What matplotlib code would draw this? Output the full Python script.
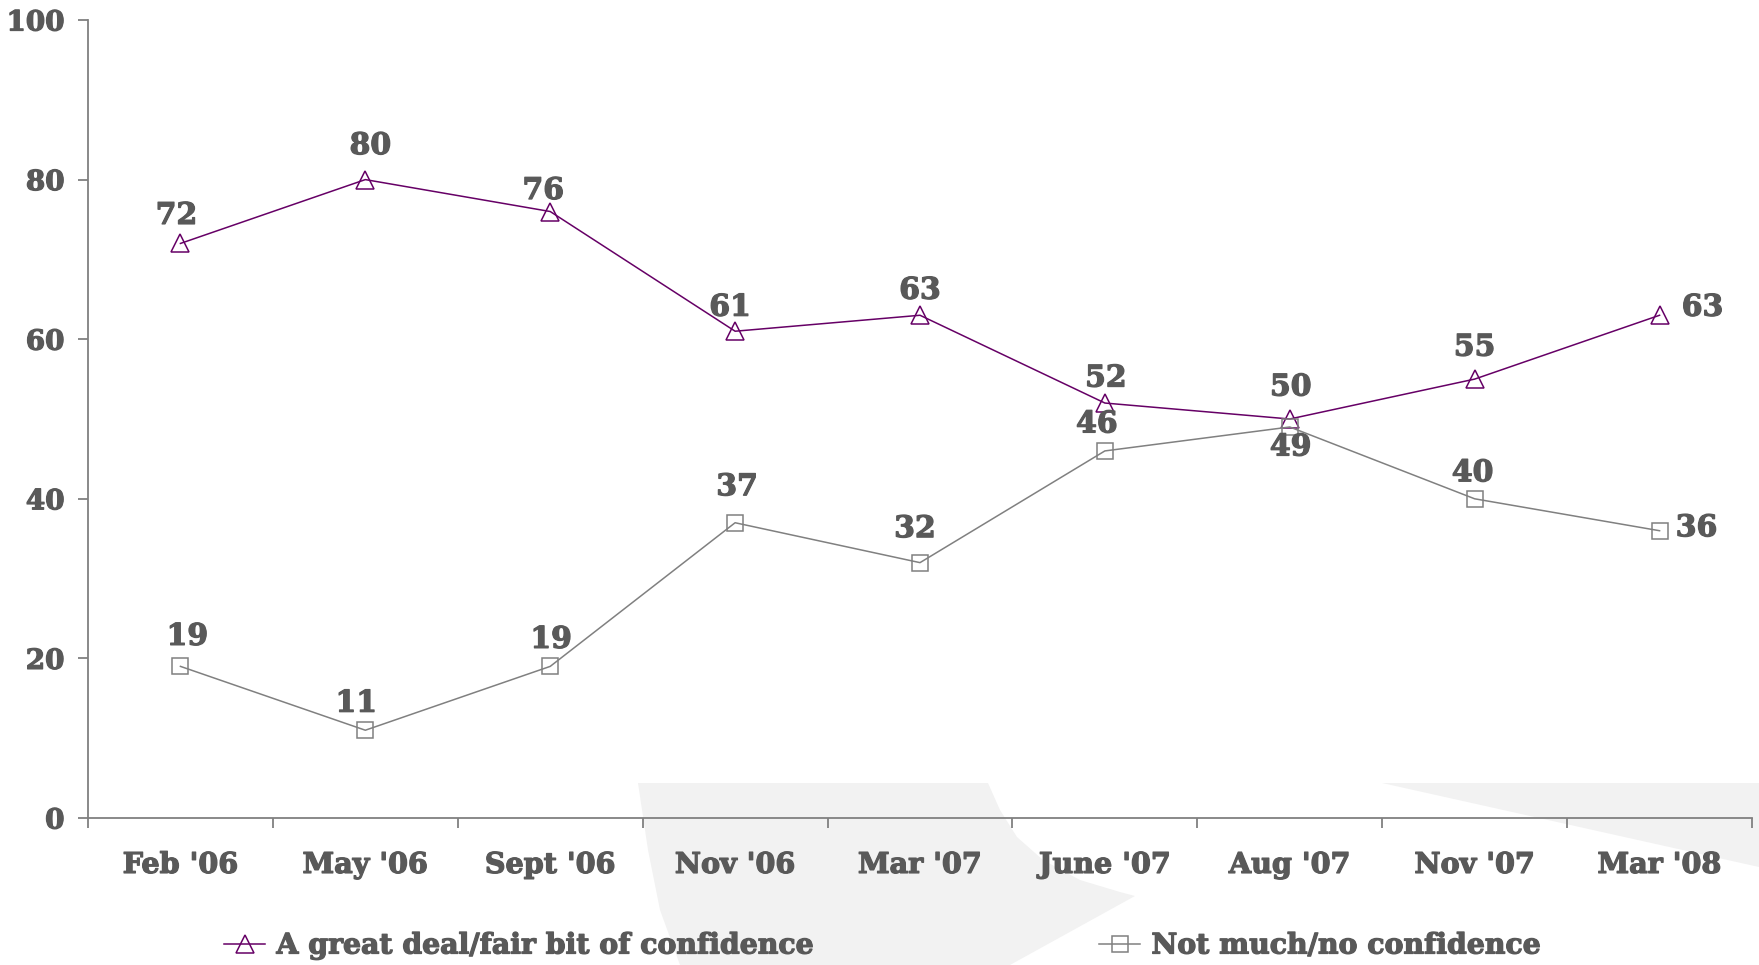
import matplotlib
matplotlib.use("Agg")
import matplotlib.pyplot as plt
import matplotlib.patheffects as pe
from matplotlib.patches import Polygon
from matplotlib.lines import Line2D

# data
waves = ["Feb '06", "May '06", "Sept '06", "Nov '06", "Mar '07",
         "June '07", "Aug '07", "Nov '07", "Mar '08"]
confident = [72, 80, 76, 61, 63, 52, 50, 55, 63]
not_confident = [19, 11, 19, 37, 32, 46, 49, 40, 36]
yticks = [0, 20, 40, 60, 80, 100]

# label offsets (pixels) - hand placed like the original
conf_off = [(-4, 28), (5, 34), (-7, 21), (-5, 24), (0, 25), (1, 25), (1, 32), (0, 32), (43, 8)]
notc_off = [(7, 30), (-9, 27), (1, 27), (2, 36), (-5, 34), (-8, 27), (1, -20), (-2, 26), (37, 3)]

PURPLE = "#660066"
GRAY = "#808080"
TXT = "#595959"
FONT = "DejaVu Serif"
# thicken the bold a bit, the original face is heavier
heavy = [pe.withStroke(linewidth=0.9, foreground=TXT)]

W, H = 1759, 965
fig = plt.figure(figsize=(W / 100, H / 100), dpi=100)
fig.patch.set_facecolor("white")


def px(pts):
    return [(x / W, 1 - y / H) for x, y in pts]


# faint watermark shapes in the background
shape1 = [(638, 783), (988, 783), (1000, 810), (1017, 837), (1043, 860), (1080, 880),
          (1120, 892), (1135, 896), (1010, 965), (680, 965), (660, 910), (648, 850)]
shape2 = [(1382, 783), (1759, 783), (1759, 867)]
for s in (shape1, shape2):
    fig.patches.append(Polygon(px(s), closed=True, transform=fig.transFigure,
                               facecolor="#f2f2f2", edgecolor="none", zorder=-10))

ax = fig.add_axes([88 / W, 1 - 818 / H, (1752 - 88) / W, (818 - 20) / H])
ax.set_zorder(1)
ax.patch.set_alpha(0)

x = list(range(len(waves)))
ax.plot(x, confident, color=PURPLE, lw=1.1, marker="^", ms=13,
        mfc="none", mec=PURPLE, mew=1.1, zorder=3)
ax.plot(x, not_confident, color=GRAY, lw=1.1, marker="s", ms=12,
        mfc="none", mec=GRAY, mew=1.1, zorder=3)

for i, v in enumerate(confident):
    ax.annotate(str(v), (i, v), xytext=conf_off[i], textcoords="offset pixels",
                ha="center", va="center", fontsize=21.5, fontweight="bold",
                family=FONT, color=TXT, path_effects=heavy)
for i, v in enumerate(not_confident):
    ax.annotate(str(v), (i, v), xytext=notc_off[i], textcoords="offset pixels",
                ha="center", va="center", fontsize=21.5, fontweight="bold",
                family=FONT, color=TXT, path_effects=heavy)

ax.set_xlim(-0.5, len(waves) - 0.5)
ax.set_ylim(0, 100)
ax.set_yticks(yticks)
ax.set_xticks(x)
ax.set_xticklabels(waves)
ax.set_xticks([i - 0.5 for i in range(len(waves) + 1)], minor=True)

for sp in ["top", "right"]:
    ax.spines[sp].set_visible(False)
for sp in ["left", "bottom"]:
    ax.spines[sp].set_color(GRAY)
    ax.spines[sp].set_linewidth(1.3)

ax.tick_params(axis="x", which="major", length=0, pad=23)
ax.tick_params(axis="x", which="minor", length=7, width=1.3, color=GRAY)
ax.tick_params(axis="y", length=7, width=1.3, color=GRAY, pad=10)
for lab in ax.get_xticklabels():
    lab.set_fontsize(20.6)
for lab in ax.get_yticklabels():
    lab.set_fontsize(20)
for lab in ax.get_xticklabels() + ax.get_yticklabels():
    lab.set_fontfamily(FONT)
    lab.set_fontweight("bold")
    lab.set_color(TXT)
    lab.set_path_effects(heavy)

# legend, two separate pieces at the bottom
h1 = Line2D([], [], color=PURPLE, lw=1.1, marker="^", ms=13, mfc="none", mec=PURPLE, mew=1.1)
h2 = Line2D([], [], color=GRAY, lw=1.1, marker="s", ms=12, mfc="none", mec=GRAY, mew=1.1)
for h, lbl, x0 in [(h1, "A great deal/fair bit of confidence", 224),
                   (h2, "Not much/no confidence", 1099)]:
    leg = fig.legend(handles=[h], labels=[lbl], loc="center left",
                     bbox_to_anchor=(x0 / W, 1 - 946 / H), frameon=False,
                     borderpad=0, borderaxespad=0, handlelength=1.45,
                     handletextpad=0.4,
                     prop={"family": FONT, "weight": "bold", "size": 20.4})
    leg.set_zorder(2)
    for t in leg.get_texts():
        t.set_color(TXT)
        t.set_path_effects(heavy)

fig.savefig("out.png", dpi=100)
